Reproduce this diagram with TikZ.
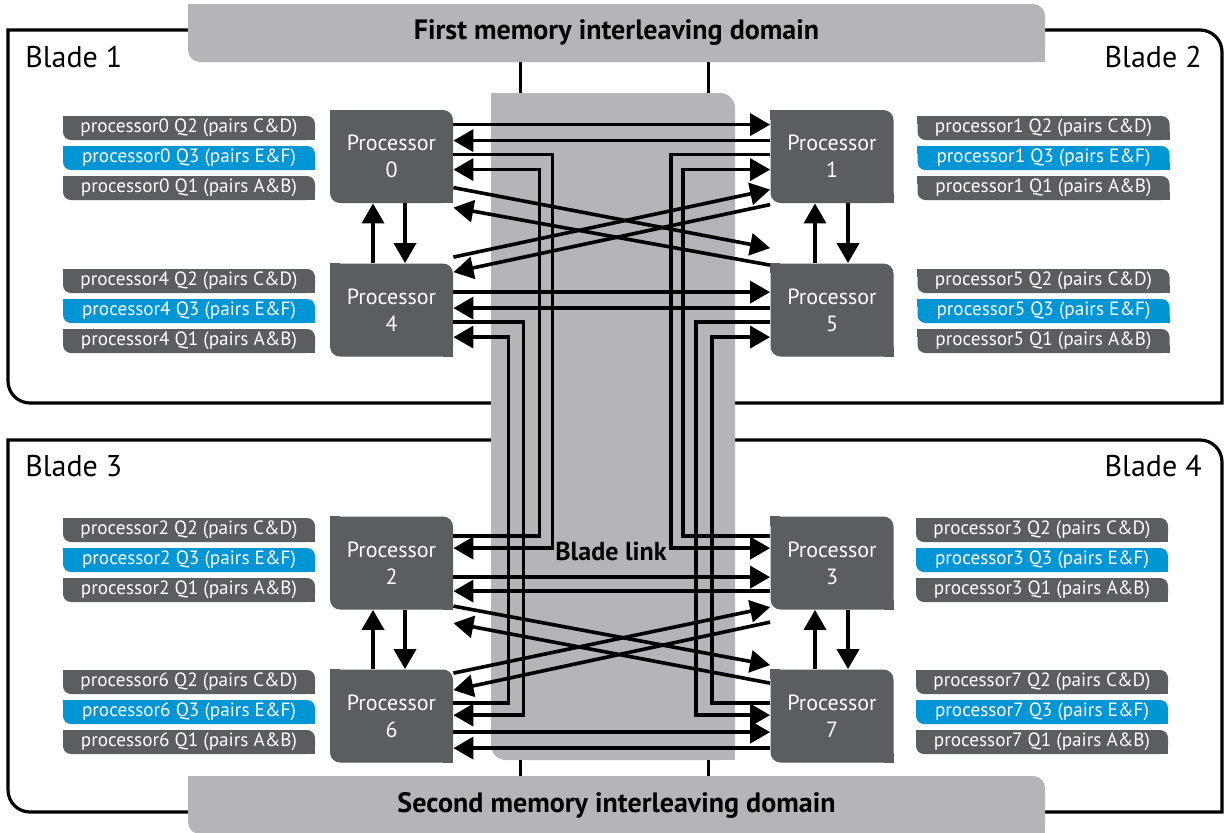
\documentclass[tikz,border=0pt]{standalone}
\usepackage{fontspec}
\setmainfont{PT Sans}
\usetikzlibrary{arrows.meta,calc}
\definecolor{boxgray}{HTML}{5A5E60}
\definecolor{hpblue}{HTML}{0096D6}
\definecolor{bandgray}{HTML}{B4B4B9}
% path of a box with rounded top-right and bottom-left corners
\newcommand\trbl[5]{(#1,#2) -- ({#3-#5},#2) .. controls ({#3-0.448*#5},#2) and (#3,{#2+0.448*#5}) .. (#3,{#2+#5}) -- (#3,#4) -- ({#1+#5},#4) .. controls ({#1+0.448*#5},#4) and (#1,{#4-0.448*#5}) .. (#1,{#4-#5}) -- cycle}
% square off the top-left and bottom-right corners of a rounded node
\newcommand\sqc[3]{\fill[#2] (#1.north west) rectangle ++(#3,#3); \fill[#2] (#1.south east) rectangle ++(-#3,-#3);}
\newcommand\lbls[4]{%
  \node[lbl,fill=boxgray] (#1a) at (#3,{#4-30}) {processor#2 Q2 (pairs C\&D)};
  \node[lbl,fill=hpblue]  (#1b) at (#3,#4) {processor#2 Q3 (pairs E\&F)};
  \node[lbl,fill=boxgray] (#1c) at (#3,{#4+30}) {processor#2 Q1 (pairs A\&B)};
  \sqc{#1a}{boxgray}{8}\sqc{#1b}{hpblue}{8}\sqc{#1c}{boxgray}{8}}
\begin{document}
\begin{tikzpicture}[x=0.5pt,y=-0.5pt,
  conn/.style={line width=1.8pt},
  arr/.style={conn,-{Triangle[length=10pt,width=11pt]}},
  frame/.style={line width=1.6pt},
  proc/.style={fill=boxgray,text=white,rounded corners=5pt,minimum width=61.5pt,minimum height=46.5pt,inner sep=0pt,align=center,font=\fontsize{11}{13.5}\selectfont},
  lbl/.style={text=white,rounded corners=4pt,minimum width=126pt,minimum height=12pt,inner sep=0pt,font=\fontsize{9.6}{11}\selectfont},
  band/.style={fill=bandgray,rounded corners=6pt,minimum width=428.5pt,minimum height=29pt,inner sep=0pt,font=\bfseries\fontsize{14}{16}\selectfont},
  bladelbl/.style={inner sep=0pt,font=\fontsize{15}{17}\selectfont}]
\fill[white] (0,0) rectangle (1229,832);
\useasboundingbox (0,0) rectangle (1229,832);
% blade frames
\draw[frame] \trbl{8}{30}{1222}{403}{22};
\draw[frame] \trbl{8}{440}{1222}{812}{22};
% memory interleaving domains
\node[band] (mem1) at (616.5,33) {First memory interleaving domain};
\sqc{mem1}{bandgray}{12}
\node[band] (mem2) at (616.5,805) {Second memory interleaving domain};
\sqc{mem2}{bandgray}{12}
% blade link column
\node[fill=bandgray,rounded corners=7.5pt,minimum width=122pt,minimum height=333.5pt,inner sep=0pt] (link) at (613,426.5) {};
\sqc{link}{bandgray}{15}
\node[font=\bfseries\fontsize{13}{15}\selectfont] (linklbl) at (611,551) {Blade link};
\coordinate (lt1) at ($(link.north west)+(30,0)$);
\coordinate (lt2) at ($(link.north east)+(-27,0)$);
\coordinate (lb1) at ($(link.south west)+(30,0)$);
\coordinate (lb2) at ($(link.south east)+(-27,0)$);
\draw[conn] (lt1) -- (lt1 |- mem1.south);
\draw[conn] (lt2) -- (lt2 |- mem1.south);
\draw[conn] (lb1) -- (lb1 |- mem2.north);
\draw[conn] (lb2) -- (lb2 |- mem2.north);
% blade labels
\node[bladelbl,anchor=west] (b1) at (25,57) {Blade 1};
\node[bladelbl,anchor=east] (b2) at (1202,57) {Blade 2};
\node[bladelbl,anchor=west] (b3) at (25,466) {Blade 3};
\node[bladelbl,anchor=east] (b4) at (1202,466) {Blade 4};
% processors
\node[proc] (p0) at (391.5,156.5) {Processor\\0};
\node[proc] (p4) at (391.5,310) {Processor\\4};
\node[proc] (p1) at (832,156.5) {Processor\\1};
\node[proc] (p5) at (832,310) {Processor\\5};
\node[proc] (p2) at (391.5,563) {Processor\\2};
\node[proc] (p6) at (391.5,716) {Processor\\6};
\node[proc] (p3) at (832,563) {Processor\\3};
\node[proc] (p7) at (832,716) {Processor\\7};
\foreach \p in {p0,p1,p2,p3,p4,p5,p6,p7}{\sqc{\p}{boxgray}{10}}
% queue labels
\lbls{q0}{0}{189}{158}
\lbls{q4}{4}{189}{311}
\lbls{q1}{1}{1043.5}{158}
\lbls{q5}{5}{1043.5}{311}
\lbls{q2}{2}{189}{560}
\lbls{q6}{6}{189}{712}
\lbls{q3}{3}{1042}{560}
\lbls{q7}{7}{1042}{712}
% vertical links inside blades
\draw[arr] ($(p4.north)+(-18.5,0)$) -- ($(p0.south)+(-18.5,0)$);
\draw[arr] ($(p0.south)+(13.5,0)$) -- ($(p4.north)+(13.5,0)$);
\draw[arr] ($(p5.north)+(-17,0)$) -- ($(p1.south)+(-17,0)$);
\draw[arr] ($(p1.south)+(16,0)$) -- ($(p5.north)+(16,0)$);
\draw[arr] ($(p6.north)+(-18.5,0)$) -- ($(p2.south)+(-18.5,0)$);
\draw[arr] ($(p2.south)+(13.5,0)$) -- ($(p6.north)+(13.5,0)$);
\draw[arr] ($(p7.north)+(-17,0)$) -- ($(p3.south)+(-17,0)$);
\draw[arr] ($(p3.south)+(16,0)$) -- ($(p7.north)+(16,0)$);
% blade 1 <-> blade 2
\draw[arr] ($(p0.north east)+(0,15)$) -- ($(p1.north west)+(0,15)$);
\draw[arr] ($(p1.north west)+(0,31)$) -- ($(p0.north east)+(0,31)$);
\draw[arr] ($(p0.north east)+(0,78)$) -- ($(p5.north west)+(0,-15)$);
\draw[arr] ($(p5.north west)+(0,2)$) -- ($(p0.north east)+(0,98)$);
\draw[arr] ($(p4.north east)+(0,-6)$) -- ($(p1.north west)+(0,80)$);
\draw[arr] ($(p1.north west)+(0,95)$) -- ($(p4.north east)+(0,9)$);
\draw[arr] ($(p4.north east)+(0,29)$) -- ($(p5.north west)+(0,29)$);
\draw[arr] ($(p5.north west)+(0,45)$) -- ($(p4.north east)+(0,45)$);
% blade 3 <-> blade 4
\draw[arr] ($(p2.north east)+(0,61)$) -- ($(p3.north west)+(0,61)$);
\draw[arr] ($(p3.north west)+(0,75)$) -- ($(p2.north east)+(0,75)$);
\draw[arr] ($(p2.north east)+(0,90)$) -- ($(p7.north west)+(0,-4)$);
\draw[arr] ($(p7.north west)+(0,14)$) -- ($(p2.north east)+(0,107)$);
\draw[arr] ($(p6.north east)+(0,4)$) -- ($(p3.north west)+(0,91)$);
\draw[arr] ($(p3.north west)+(0,106)$) -- ($(p6.north east)+(0,21)$);
\draw[arr] ($(p6.north east)+(0,63)$) -- ($(p7.north west)+(0,63)$);
\draw[arr] ($(p7.north west)+(0,79)$) -- ($(p6.north east)+(0,79)$);
% blade links (upper blades <-> lower blades)
\draw[arr] ($(p0.north east)+(0,45)$) -- ++(99,0) |- ($(p2.north east)+(0,32)$);
\draw[arr] ($(p2.north east)+(0,20)$) -- ++(86,0) |- ($(p0.north east)+(0,60)$);
\draw[arr] ($(p1.north west)+(0,45)$) -- ++(-99,0) |- ($(p3.north west)+(0,32)$);
\draw[arr] ($(p3.north west)+(0,20)$) -- ++(-87,0) |- ($(p1.north west)+(0,60)$);
\draw[arr] ($(p4.north east)+(0,59)$) -- ++(70,0) |- ($(p6.north east)+(0,46)$);
\draw[arr] ($(p6.north east)+(0,34)$) -- ++(55,0) |- ($(p4.north east)+(0,74)$);
\draw[arr] ($(p5.north west)+(0,59)$) -- ++(-74,0) |- ($(p7.north west)+(0,46)$);
\draw[arr] ($(p7.north west)+(0,34)$) -- ++(-58,0) |- ($(p5.north west)+(0,74)$);
\end{tikzpicture}
\end{document}
